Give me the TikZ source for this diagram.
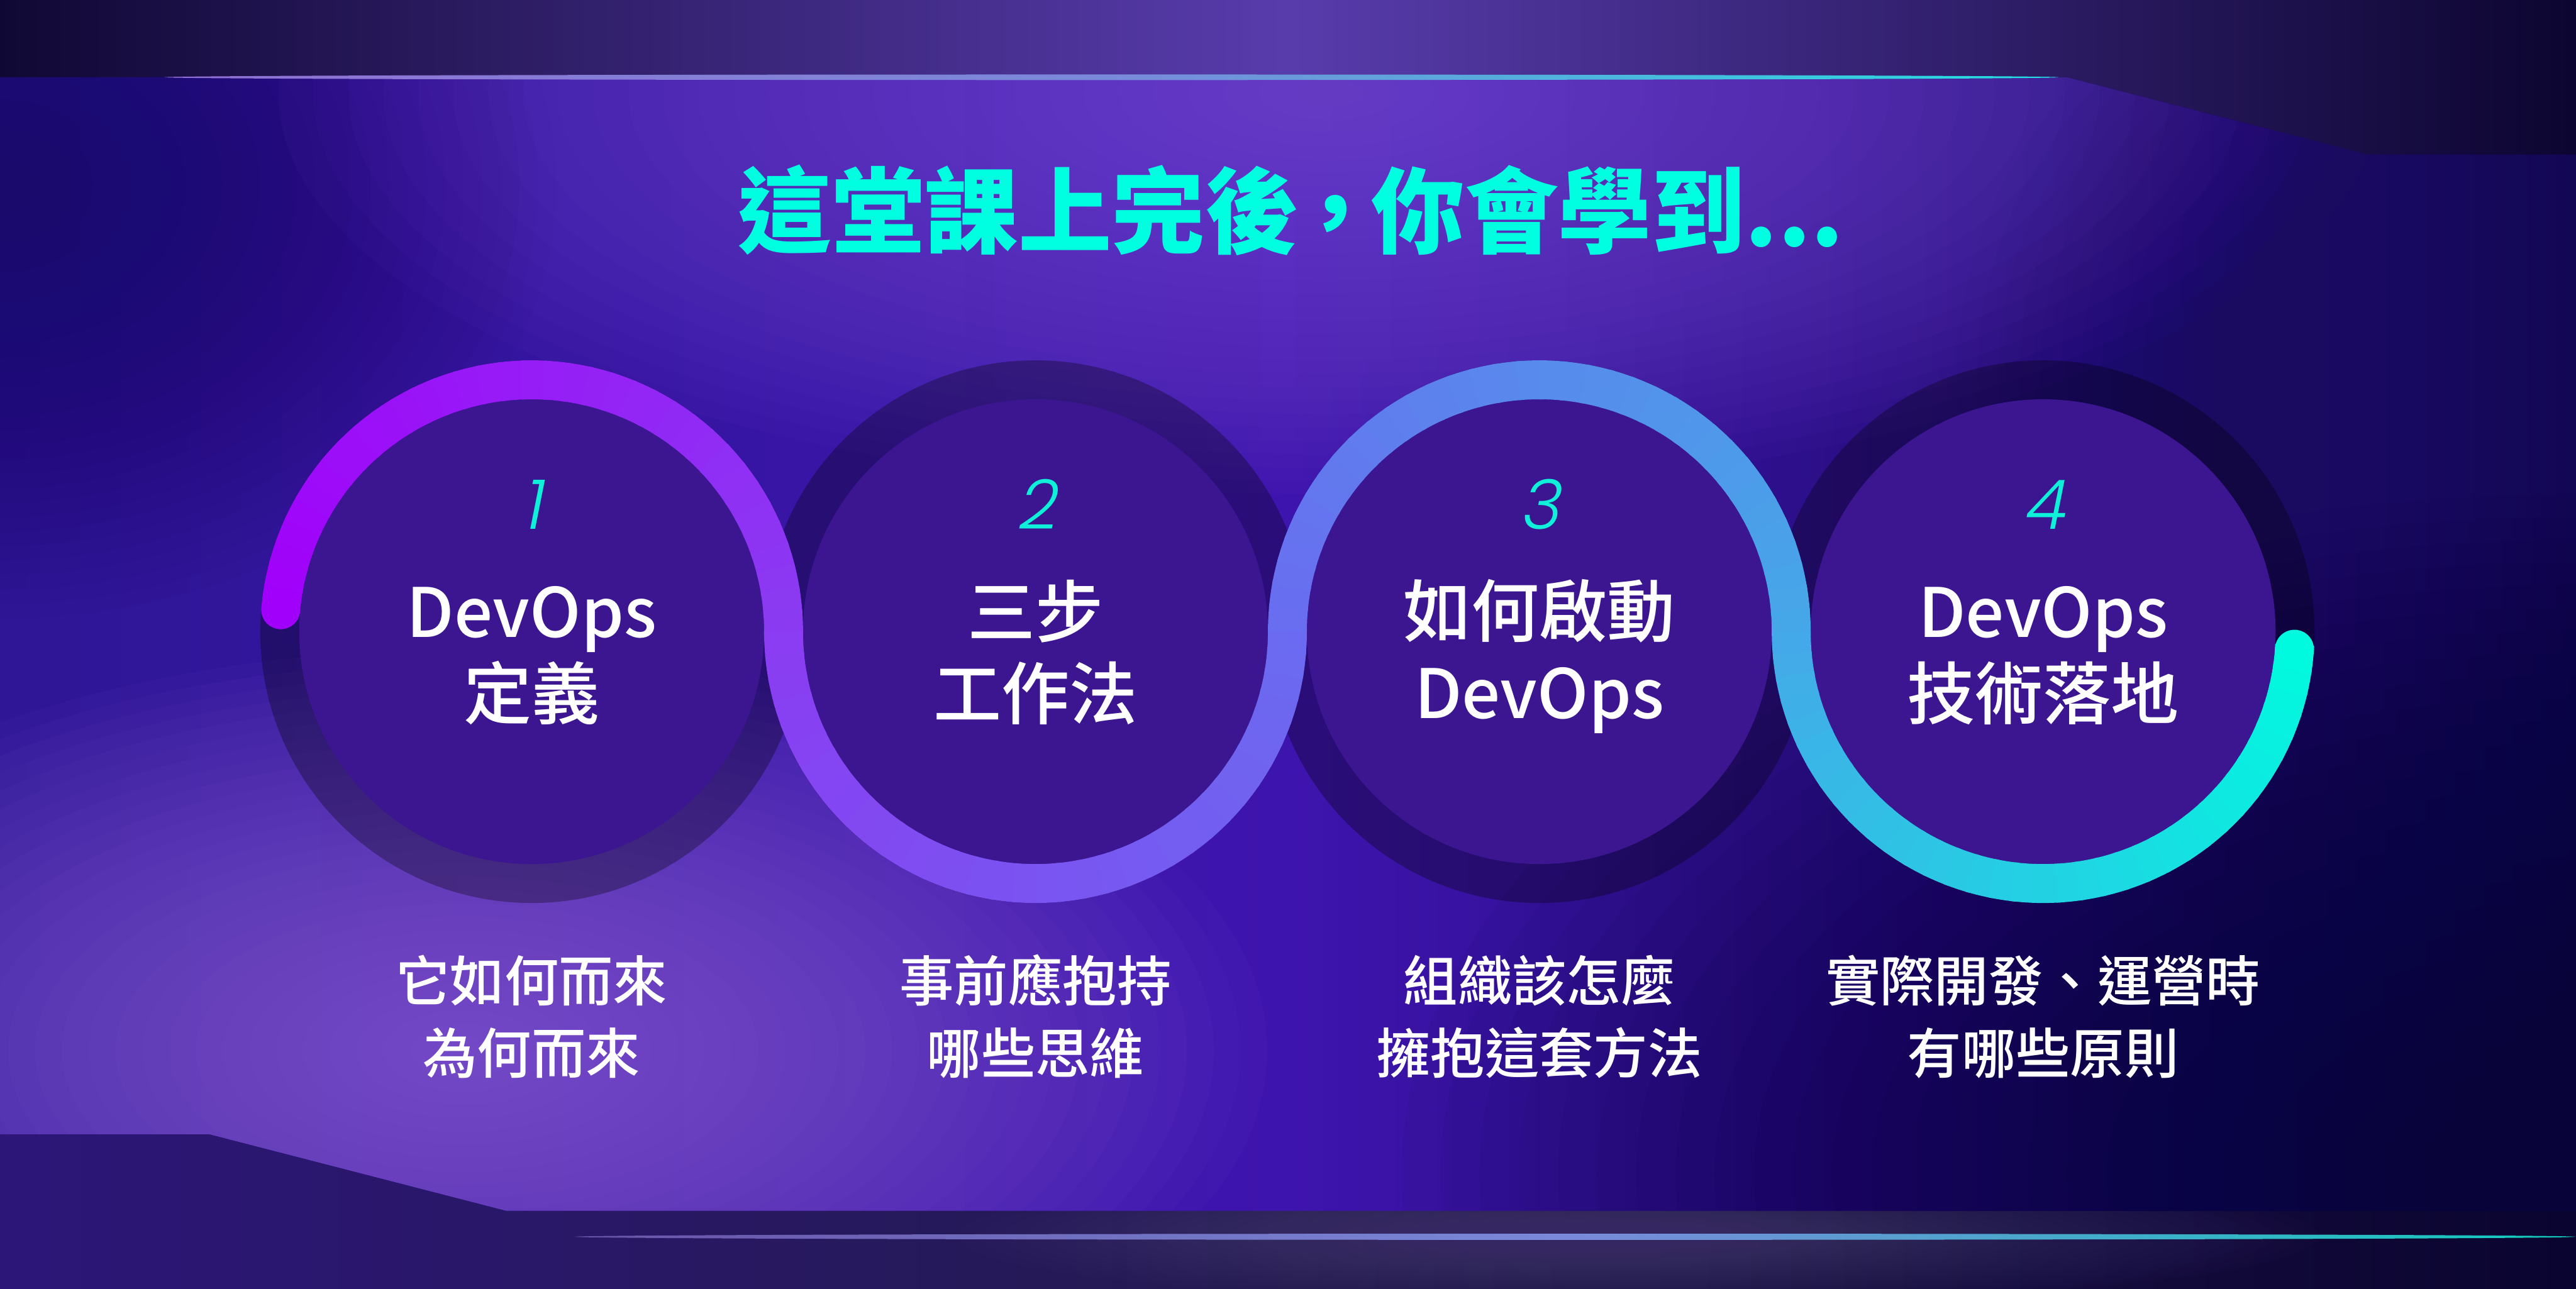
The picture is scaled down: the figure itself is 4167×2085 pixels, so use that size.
\documentclass[tikz,border=0pt]{standalone}
\usepackage{fontspec}
\setmainfont{Noto Sans CJK TC}
\newfontfamily\titlefont{Noto Sans CJK TC Black}
\newfontfamily\stepfont{Noto Sans CJK TC Medium}
\newfontfamily\numfont{Poppins Light}[FakeSlant=0.2]
\usetikzlibrary{positioning}
\definecolor{NightBand}{RGB}{16,8,52}
\definecolor{BandGlow}{RGB}{88,60,172}
\definecolor{BandRight}{RGB}{12,5,48}
\definecolor{FloorLeft}{RGB}{44,22,120}
\definecolor{FloorMid}{RGB}{36,26,80}
\definecolor{FloorRight}{RGB}{10,4,48}
\definecolor{BodyLeft}{RGB}{46,22,150}
\definecolor{BodyMid}{RGB}{62,20,174}
\definecolor{BodyRight}{RGB}{18,7,84}
\definecolor{TopGlow}{RGB}{126,82,218}
\definecolor{LavGlow}{RGB}{150,104,224}
\definecolor{DeepNavy}{RGB}{8,3,56}
\definecolor{DimNavy}{RGB}{26,10,96}
\definecolor{DiskCore}{RGB}{59,22,144}
\definecolor{DiskRim}{RGB}{40,11,112}
\definecolor{ArcA}{RGB}{161,0,250}
\definecolor{ArcB}{RGB}{138,60,242}
\definecolor{ArcC}{RGB}{106,108,240}
\definecolor{ArcD}{RGB}{69,168,232}
\definecolor{ArcE}{RGB}{0,250,223}
\definecolor{TitleCyan}{RGB}{0,255,225}
\definecolor{NumCyan}{RGB}{14,240,216}
\definecolor{LineDim}{RGB}{104,84,168}
\definecolor{LineLav}{RGB}{144,112,212}
\definecolor{LineMid}{RGB}{122,138,218}
\definecolor{LineCyan}{RGB}{34,224,224}
\definecolor{LineTeal}{RGB}{16,204,188}
\definecolor{HazeGray}{RGB}{84,70,128}
\pgfdeclareradialshading{innerdisk}{\pgfpointorigin}{color(0bp)=(DiskCore); color(38bp)=(DiskCore); color(50bp)=(DiskRim)}
\newcommand{\lnstrut}{\rule[-0.2em]{0pt}{1.1em}}
% soft blob: colour, opacity per layer, centre, x radius, y radius
\newcommand{\glowblob}[5]{%
  \foreach \g in {1,...,30}{\fill[#1,opacity=#2] (#3) ellipse ({#4/30*\g} and {#5/30*\g});}}
\tikzset{
  disk/.style={circle,minimum size=75.2mm,inner sep=0pt,outer sep=0pt,
    shade,shading=innerdisk},
  numtext/.style={text=NumCyan,font=\numfont\fontsize{31.5}{32}\selectfont,
    inner sep=0pt,anchor=base},
  steptext/.style={text=white,font=\stepfont\fontsize{31.3}{37.6}\selectfont,
    align=center,inner sep=0pt},
  captext/.style={text=white,font=\stepfont\fontsize{25}{33.3}\selectfont,
    align=center,inner sep=0pt},
  titletext/.style={text=TitleCyan,font=\titlefont\fontsize{43}{48}\selectfont,
    inner sep=0pt,anchor=base},
  arcline/.style={line width=6.3mm}
}

\begin{document}
\begin{tikzpicture}[x=0.1mm,y=-0.1mm]
  \useasboundingbox (0,0) rectangle (4167,2085);
  % bands
  \shade[left color=NightBand,right color=BandRight,middle color=BandGlow]
    (0,0) rectangle (4167,260);
  \shade[left color=FloorLeft,right color=FloorRight,middle color=FloorMid]
    (0,1800) rectangle (4167,2085);
  \glowblob{HazeGray}{.03}{2650,2000}{1100}{110}
  % body
  \begin{scope}
    \clip (0,125) -- (3343,125) -- (3830,250) -- (4167,250) -- (4167,1959)
      -- (819,1959) -- (338,1835) -- (0,1835) -- cycle;
    \shade[left color=BodyLeft,right color=BodyRight,middle color=BodyMid]
      (0,0) rectangle (4167,2085);
    \glowblob{DimNavy}{.035}{0,300}{900}{700}
    \glowblob{TopGlow}{.042}{2150,150}{1700}{650}
    \glowblob{LavGlow}{.045}{750,1700}{1300}{650}
    \glowblob{DeepNavy}{.05}{4167,1900}{1900}{1100}
    \glowblob{DimNavy}{.03}{4167,600}{1000}{800}
  \end{scope}
  % glow lines
  \shade[left color=LineLav,right color=LineCyan,middle color=LineMid]
    (1798,125) ellipse (1532 and 4.5);
  \shade[left color=LineDim,right color=LineTeal,middle color=LineMid]
    (2548,2001) ellipse (1618 and 5);

  % circles
  \fill[black,opacity=.3] (860,1022) circle (439) (1675,1022) circle (439)
    (2490,1022) circle (439) (3305,1022) circle (439);
  \node[disk] (d1) at (860,1022) {};
  \node[disk] (d2) at (1675,1022) {};
  \node[disk] (d3) at (2490,1022) {};
  \node[disk] (d4) at (3305,1022) {};

  % the wave, coloured segment by segment
  \foreach \cx/\sa/\ea/\ca/\cb in {860/-175/0/ArcA/ArcB,1675/180/0/ArcB/ArcC,
      2490/-180/0/ArcC/ArcD,3305/180/4/ArcD/ArcE}{
    \foreach \k in {0,...,35}{
      \pgfmathsetmacro{\angA}{\sa+((\ea)-(\sa))*\k/36}
      \pgfmathsetmacro{\angB}{\sa+((\ea)-(\sa))*(\k+1.2)/36}
      \pgfmathsetmacro{\mixp}{100*(\k+0.5)/36}
      \draw[arcline,draw=\cb!\mixp!\ca] (\cx,1022) ++(\angA:407.5)
        arc[start angle=\angA,end angle=\angB,radius=407.5];
    }
  }
  \fill[ArcA] (860,1022) ++(-175:407.5) circle (31.5);
  \fill[ArcE] (3305,1022) ++(4:407.5) circle (31.5);

  % texts
  \node[titletext] (title) at (2088,398)
    {這堂課上完後\hspace{-0.11em}，\hspace{-0.11em}你會學到...};

  \node[numtext] (n1) at ([yshift=16.6mm]d1.center) {1};
  \node[numtext] (n2) at ([yshift=16.6mm]d2.center) {2};
  \node[numtext] (n3) at ([yshift=16.6mm]d3.center) {3};
  \node[numtext] (n4) at ([yshift=16.6mm]d4.center) {4};

  \node[steptext] (s1) at ([yshift=-3.65mm]d1.center) {\lnstrut DevOps\\\lnstrut 定義};
  \node[steptext] (s2) at ([yshift=-3.65mm]d2.center) {\lnstrut 三步\\\lnstrut 工作法};
  \node[steptext] (s3) at ([yshift=-3.65mm]d3.center) {\lnstrut 如何啟動\\\lnstrut DevOps};
  \node[steptext] (s4) at ([yshift=-3.65mm]d4.center) {\lnstrut DevOps\\\lnstrut 技術落地};

  \node[captext,below=14.2mm of d1] (c1) {\lnstrut 它如何而來\\\lnstrut 為何而來};
  \node[captext,below=14.2mm of d2] (c2) {\lnstrut 事前應抱持\\\lnstrut 哪些思維};
  \node[captext,below=14.2mm of d3] (c3) {\lnstrut 組織該怎麼\\\lnstrut 擁抱這套方法};
  \node[captext,below=14.2mm of d4] (c4) {\lnstrut 實際開發、運營時\\\lnstrut 有哪些原則};
\end{tikzpicture}
\end{document}
